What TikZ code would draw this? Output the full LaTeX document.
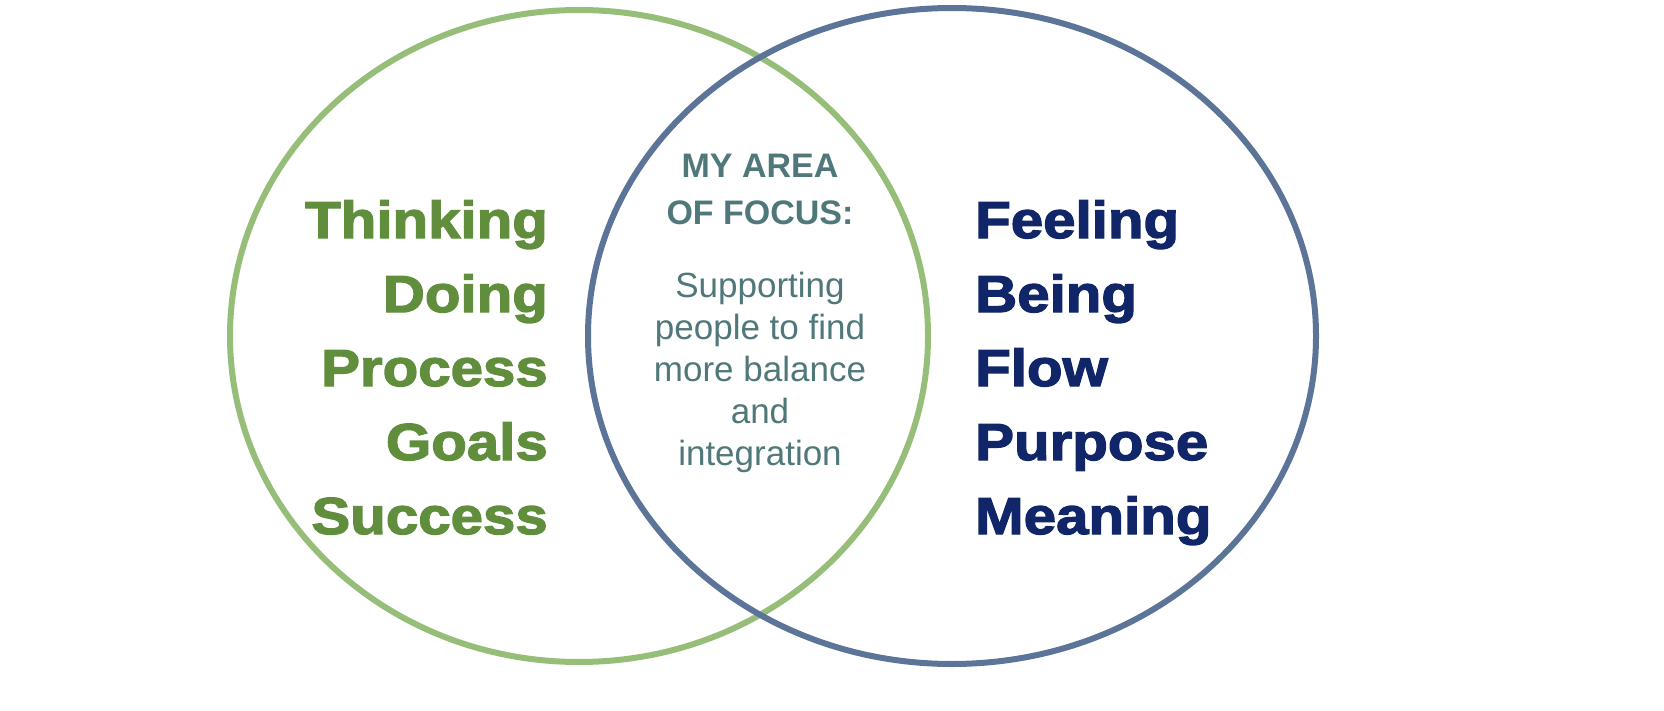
\documentclass[tikz,border=0pt]{standalone}
\usepackage{fontspec}
\setmainfont{Liberation Sans}
\newfontfamily\heavy{Liberation Sans}[FakeBold=2.5,FakeStretch=1.12,BoldFont={Liberation Sans Bold}]
\definecolor{gc}{RGB}{150,190,120}
\definecolor{bc}{RGB}{92,116,152}
\definecolor{gt}{RGB}{96,142,60}
\definecolor{bt}{RGB}{16,38,104}
\definecolor{ct}{RGB}{80,120,122}
\begin{document}
\begin{tikzpicture}[x=1pt,y=-1pt,
 big/.style={font=\heavy\fontsize{52}{74}\selectfont\bfseries},
 ctr/.style={align=center,text=ct,inner sep=0}]
\useasboundingbox (0,0) rectangle (1664,711);
\draw[gc,line width=6] (579,336) ellipse [x radius=349,y radius=326];
\draw[bc,line width=6] (952,336) ellipse [x radius=364,y radius=328];
\node[big,text=gt,align=right,anchor=base east,inner sep=0] (L) at (548,534)
 {Thinking\\Doing\\Process\\Goals\\Success};
\node[big,text=bt,align=left,anchor=base west,inner sep=0] (R) at (975,534)
 {Feeling\\Being\\Flow\\Purpose\\Meaning};
\node[ctr,font=\fontsize{34}{47}\selectfont\bfseries,anchor=base] (T) at (760,225) {MY AREA\\OF FOCUS:};
\node[ctr,font=\fontsize{35}{42}\selectfont,anchor=base] (B) at (760,465)
 {Supporting\\people to find\\more balance\\and\\integration};
\end{tikzpicture}
\end{document}
